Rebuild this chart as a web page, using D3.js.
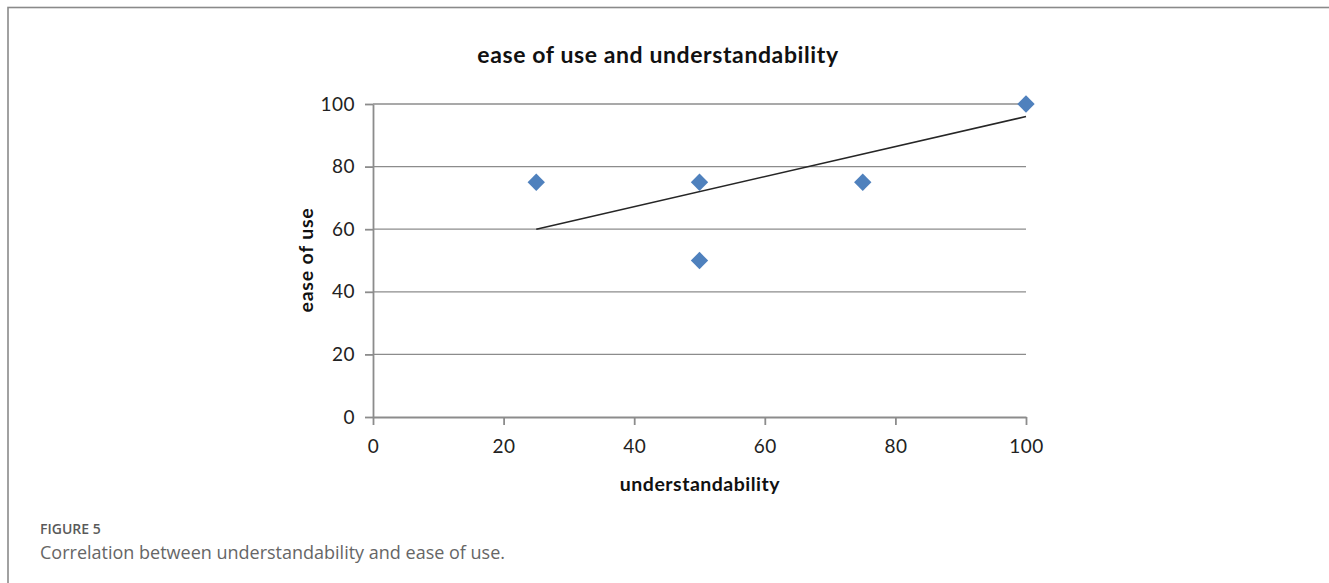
<!DOCTYPE html>
<meta charset="utf-8">
<style>
body { margin:0; background:white; font-family:Lato, "Open Sans", sans-serif; }
.grid line { stroke:#8c8c8c; stroke-width:1.3; }
.axis path, .axis line { stroke:#8c8c8c; stroke-width:1.8; }
.axis text { font-family:Lato, sans-serif; font-size:19px; fill:#222; letter-spacing:0.5px; }
</style>
<script src="https://d3js.org/d3.v7.min.js"></script>
<div id="chart"></div>
<script>

// points
var understandability = [25, 50, 50, 75, 100];
var easeOfUse = [75, 75, 50, 75, 100];
// trendline ends as drawn
var trendX = [25, 100];
var trendY = [60, 96];
var xTicks = [0, 20, 40, 60, 80, 100];
var yTicks = [0, 20, 40, 60, 80, 100];

var W = 1329, H = 583;
var svg = d3.select("#chart").append("svg")
    .attr("width", W).attr("height", H);

// figure frame
svg.append("rect")
    .attr("x", 8).attr("y", 7.5)
    .attr("width", W).attr("height", H)
    .attr("fill", "none").attr("stroke", "#8a8a8a").attr("stroke-width", 1.6);

var x = d3.scaleLinear().domain([0, 100]).range([373, 1026]);
var y = d3.scaleLinear().domain([0, 100]).range([417, 104]);

// horizontal gridlines
svg.append("g").attr("class", "grid")
  .selectAll("line").data(yTicks.slice(1)).enter().append("line")
    .attr("x1", x(0)).attr("x2", x(100))
    .attr("y1", function(d) { return y(d); })
    .attr("y2", function(d) { return y(d); });

// axes
svg.append("g").attr("class", "axis")
    .attr("transform", "translate(0," + y(0) + ")")
    .call(d3.axisBottom(x).tickValues(xTicks).tickSize(8).tickPadding(15).tickSizeOuter(0));
svg.append("g").attr("class", "axis")
    .attr("transform", "translate(" + x(0) + ",0)")
    .call(d3.axisLeft(y).tickValues(yTicks).tickSize(8).tickPadding(10).tickSizeOuter(0));

// trendline
svg.append("line")
    .attr("x1", x(trendX[0])).attr("y1", y(trendY[0]))
    .attr("x2", x(trendX[1])).attr("y2", y(trendY[1]))
    .attr("stroke", "#262626").attr("stroke-width", 1.6);

// diamonds
svg.append("g").selectAll("path")
  .data(understandability.map(function(u, i) { return [u, easeOfUse[i]]; }))
  .enter().append("path")
    .attr("d", d3.symbol().type(d3.symbolSquare).size(150))
    .attr("transform", function(d) { return "translate(" + x(d[0]) + "," + y(d[1]) + ") rotate(45)"; })
    .attr("fill", "#4f81bd");

// titles
svg.append("text")
    .attr("x", 658).attr("y", 63)
    .attr("text-anchor", "middle")
    .style("font-size", "23px").style("font-weight", "bold").style("fill", "#111")
    .style("letter-spacing", "0.6px")
    .text("ease of use and understandability");
svg.append("text")
    .attr("x", 700).attr("y", 491)
    .attr("text-anchor", "middle")
    .style("font-size", "19.5px").style("font-weight", "bold").style("fill", "#111")
    .style("letter-spacing", "0.5px")
    .text("understandability");
svg.append("text")
    .attr("transform", "translate(313,260) rotate(-90)")
    .attr("text-anchor", "middle")
    .style("font-size", "19.5px").style("font-weight", "bold").style("fill", "#111")
    .style("letter-spacing", "0.8px")
    .text("ease of use");

// caption
svg.append("text")
    .attr("x", 40).attr("y", 534)
    .style("font-family", "'Open Sans', sans-serif")
    .style("font-size", "14px").style("font-weight", "600").style("fill", "#5a5a5a")
    .text("FIGURE 5");
svg.append("text")
    .attr("x", 40).attr("y", 559)
    .style("font-family", "'Open Sans', sans-serif")
    .style("font-size", "18px").style("fill", "#666")
    .text("Correlation between understandability and ease of use.");

</script>
